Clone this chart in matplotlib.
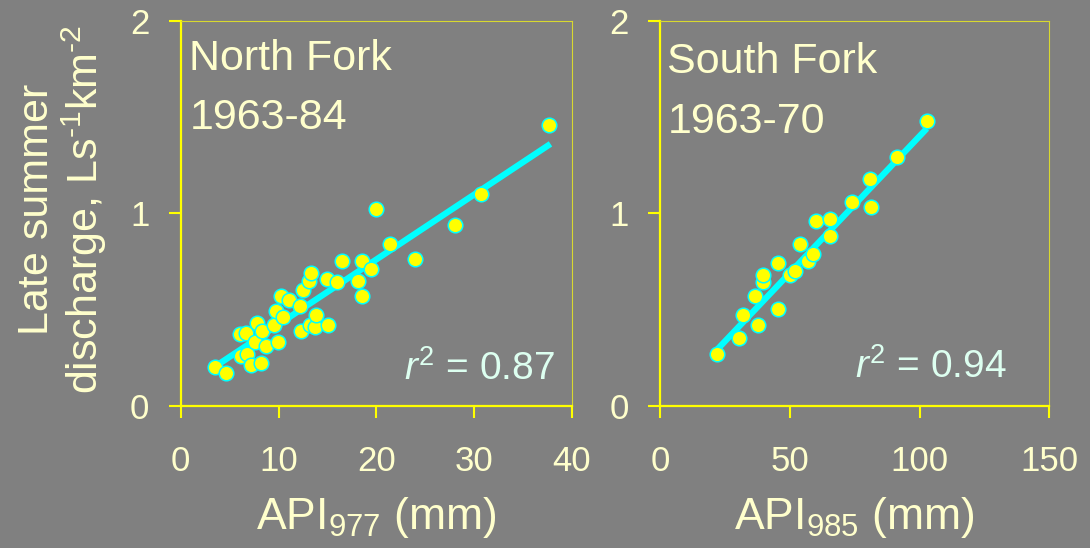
import matplotlib
matplotlib.use("Agg")
import matplotlib.pyplot as plt

plt.rcParams['font.family'] = ['Liberation Sans', 'DejaVu Sans']
plt.rcParams['mathtext.fontset'] = 'custom'
plt.rcParams['mathtext.rm'] = 'Liberation Sans'
plt.rcParams['mathtext.it'] = 'Liberation Sans:italic'
plt.rcParams['mathtext.bf'] = 'Liberation Sans:bold'

BG = "#808080"
YELLOW = "#ffff00"
CYAN = "#00ffff"
CREAM = "#ffffcc"
MINT = "#ddfff0"

# North Fork (1963-84): API977 vs late summer discharge
north_api = [3.5, 4.6, 6.2, 6.8, 7.2, 8.2, 6.1, 6.7, 7.8, 7.6, 8.7, 8.3, 9.9, 9.5,
             9.7, 10.5, 10.3, 11.1, 12.2, 12.5, 13.1, 13.3, 12.3, 13.2, 13.7, 13.8,
             15.1, 15.0, 16.0, 16.5, 18.1, 18.5, 18.5, 19.5, 20.0, 21.4, 24.0, 28.0,
             30.7, 37.6]
north_q = [0.20, 0.17, 0.26, 0.27, 0.21, 0.22, 0.37, 0.38, 0.43, 0.33, 0.31, 0.39,
           0.33, 0.42, 0.49, 0.46, 0.57, 0.55, 0.52, 0.60, 0.65, 0.69, 0.39, 0.42,
           0.41, 0.47, 0.42, 0.66, 0.64, 0.75, 0.65, 0.57, 0.75, 0.71, 1.02, 0.84,
           0.76, 0.94, 1.10, 1.46]
north_fit_x = [4.0, 37.8]
north_fit_y = [0.22, 1.36]

# South Fork (1963-70): API985 vs late summer discharge
south_api = [21.9, 30.6, 32.1, 37.9, 36.6, 39.8, 39.8, 45.6, 45.6, 50.1, 52.0,
             57.1, 59.1, 54.0, 60.0, 65.5, 65.5, 74.1, 80.9, 81.2, 91.5, 102.7]
south_q = [0.27, 0.35, 0.47, 0.42, 0.57, 0.64, 0.68, 0.50, 0.74, 0.68, 0.70,
           0.75, 0.79, 0.84, 0.96, 0.88, 0.97, 1.06, 1.18, 1.03, 1.29, 1.48]
south_fit_x = [21.9, 102.8]
south_fit_y = [0.29, 1.44]

fig = plt.figure(figsize=(10.9, 5.48), dpi=100, facecolor=BG)
W, H = 1090, 548
ax1 = fig.add_axes([180.7 / W, 1 - 405.7 / H, 391.3 / W, 385 / H])
ax2 = fig.add_axes([660 / W, 1 - 405.7 / H, 389.3 / W, 385 / H])

panels = [
    (ax1, north_api, north_q, north_fit_x, north_fit_y, (0, 40), [0, 10, 20, 30, 40],
     "North Fork", "1963-84", (0.022, 0.872, 0.718), "0.87", (0.955, 0.067),
     r"API$_{\mathregular{977}}$ (mm)"),
    (ax2, south_api, south_q, south_fit_x, south_fit_y, (0, 150), [0, 50, 100, 150],
     "South Fork", "1963-70", (0.019, 0.865, 0.708), "0.94", (0.890, 0.072),
     r"API$_{\mathregular{985}}$ (mm)"),
]

for ax, xs, ys, fx, fy, xlim, xticks, name, years, tpos, r2, rpos, xlab in panels:
    ax.set_facecolor(BG)
    ax.plot(fx, fy, color=CYAN, linewidth=4.5, solid_capstyle='butt', zorder=2)
    ax.plot(xs, ys, linestyle='none', marker='o', markersize=10.5,
            markerfacecolor=YELLOW, markeredgecolor=CYAN, markeredgewidth=1.1,
            zorder=3, clip_on=False)
    ax.set_xlim(*xlim)
    ax.set_ylim(0, 2)
    ax.set_xticks(xticks)
    ax.set_yticks([0, 1, 2])
    for side in ['left', 'bottom']:
        ax.spines[side].set_color(YELLOW)
        ax.spines[side].set_linewidth(1.6)
    for side in ['top', 'right']:
        ax.spines[side].set_color("#d8d830")
        ax.spines[side].set_linewidth(0.8)
    ax.tick_params(direction='out', length=8.5, width=1.5, color=YELLOW,
                   labelsize=25, labelcolor=CREAM, pad=14)
    ax.tick_params(axis='x', pad=20)
    ax.set_xlabel(xlab, fontsize=32, color=CREAM, labelpad=12)
    ax.text(tpos[0], tpos[1], name, transform=ax.transAxes, fontsize=31,
            color=CREAM, ha='left', va='baseline')
    ax.text(tpos[0], tpos[2], years, transform=ax.transAxes, fontsize=31,
            color=CREAM, ha='left', va='baseline')
    ax.text(rpos[0], rpos[1], r"$\mathit{r}^{\mathregular{2}}$ = " + r2,
            transform=ax.transAxes, fontsize=28, color=MINT, ha='right', va='baseline')

fig.text(48 / W, 1 - 209 / H, "Late summer", rotation=90, rotation_mode='anchor',
         ha='center', va='baseline', fontsize=31, color=CREAM)
fig.text(98 / W, 1 - 209 / H, r"discharge, Ls$^{\text{-1}}$km$^{\text{-2}}$",
         rotation=90, rotation_mode='anchor', ha='center', va='baseline',
         fontsize=31, color=CREAM)

fig.savefig("out.png", dpi=100, facecolor=BG)
